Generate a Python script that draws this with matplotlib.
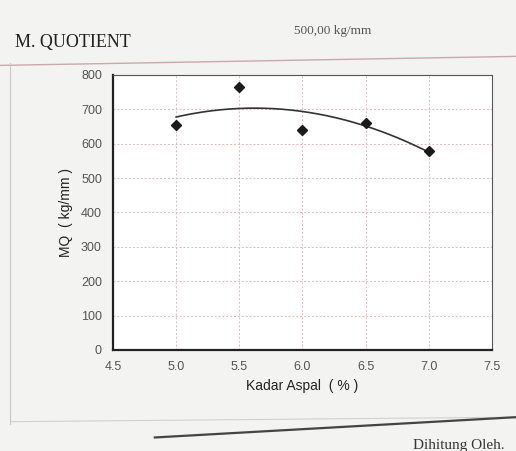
import numpy as np
import matplotlib
matplotlib.use("Agg")
import matplotlib.pyplot as plt
from matplotlib.lines import Line2D

kadar_aspal = [5.0, 5.5, 6.0, 6.5, 7.0]
mq_values = [655, 765, 640, 660, 580]
x_ticks = [4.5, 5.0, 5.5, 6.0, 6.5, 7.0, 7.5]
y_ticks = [0, 100, 200, 300, 400, 500, 600, 700, 800]

fig = plt.figure(figsize=(5.16, 4.51), dpi=100, facecolor="#f3f3f1")

# form lines
fig.add_artist(Line2D([0.0, 1.0], [0.855, 0.875], color="#c9a9ad", lw=1.0))
fig.add_artist(Line2D([0.02, 0.02], [0.06, 0.86], color="#c8c8c8", lw=0.8))
fig.add_artist(Line2D([0.02, 1.0], [0.065, 0.075], color="#d0d0d0", lw=0.8))
fig.add_artist(Line2D([0.3, 1.0], [0.03, 0.075], color="#444444", lw=1.6))

fig.text(0.03, 0.895, "M. QUOTIENT", family="Liberation Serif", fontsize=13, color="#222222")
fig.text(0.57, 0.925, "500,00 kg/mm", family="Liberation Serif", fontsize=9.5, color="#555555")
fig.text(0.80, 0.005, "Dihitung Oleh.", family="Liberation Serif", fontsize=11, color="#333333")

ax = fig.add_axes([0.219, 0.224, 0.734, 0.61])
ax.set_facecolor("white")
ax.set_xlim(4.5, 7.5)
ax.set_ylim(0, 800)
ax.set_xticks(x_ticks)
ax.set_yticks(y_ticks)
ax.set_xticklabels([f"{v:.1f}" for v in x_ticks])
ax.grid(True, color="#e3b8bd", lw=0.7, ls=(0, (2, 2)))
ax.tick_params(length=0, labelsize=9, colors="#555555", pad=8)
for lbl in ax.get_xticklabels() + ax.get_yticklabels():
    lbl.set_family("Liberation Sans")
for s in ["top", "right"]:
    ax.spines[s].set_color("#555555")
    ax.spines[s].set_linewidth(0.8)
for s in ["left", "bottom"]:
    ax.spines[s].set_color("#222222")
    ax.spines[s].set_linewidth(1.6)

coef = np.polyfit(kadar_aspal, mq_values, 2)
xs = np.linspace(min(kadar_aspal), max(kadar_aspal), 200)
ax.plot(xs, np.polyval(coef, xs), color="#333333", lw=1.2)
ax.plot(kadar_aspal, mq_values, ls="none", marker="D", ms=5.5, color="#1a1a1a")

ax.set_xlabel("Kadar Aspal  ( % )", family="Liberation Sans", fontsize=10, color="#222222")
ax.set_ylabel("MQ  ( kg/mm )", family="Liberation Sans", fontsize=10, color="#222222", labelpad=6)

fig.savefig("out.png", dpi=100, facecolor=fig.get_facecolor())
